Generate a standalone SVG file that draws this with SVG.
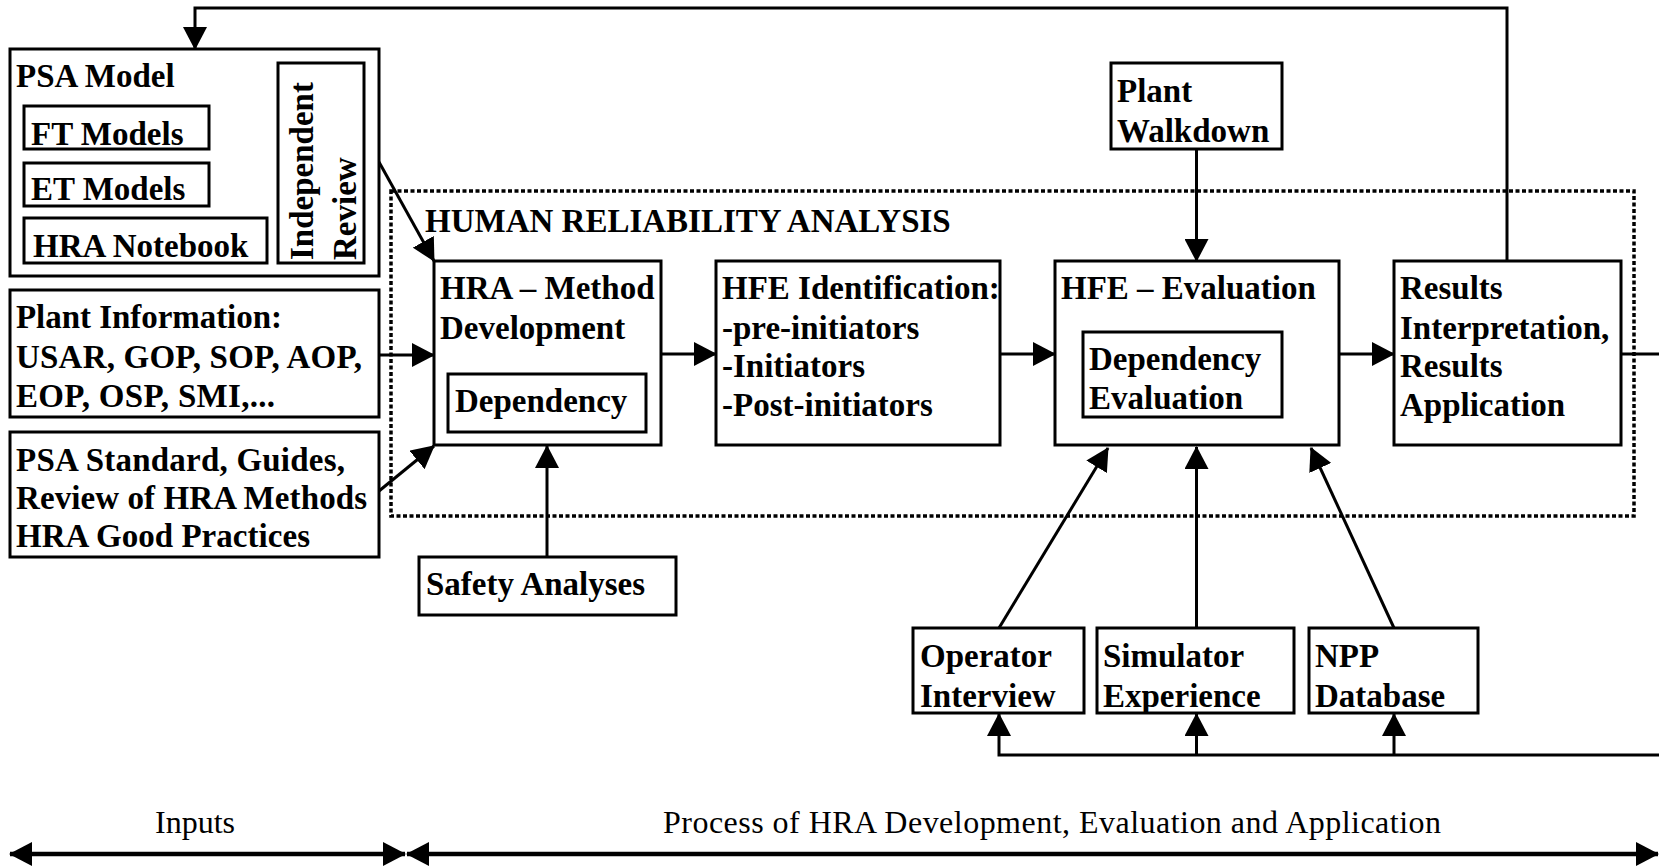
<svg xmlns="http://www.w3.org/2000/svg" width="1659" height="868" viewBox="0 0 1659 868">
  <style>
    .box { fill: #fff; stroke: #000; stroke-width: 3; }
    .in { fill: none; stroke: #000; stroke-width: 3; }
    .lbl { font-family: "Liberation Serif", "Times New Roman", serif; font-weight: bold; font-size: 33px; fill: #000; }
    .cap { font-family: "Liberation Serif", "Times New Roman", serif; font-size: 32px; fill: #000; }
    .wire { fill: none; stroke: #000; stroke-width: 3; }
    .span { fill: none; stroke: #000; stroke-width: 4.5; }
    .dots { fill: none; stroke: #000; stroke-width: 3.5; stroke-dasharray: 4 2.5; }
  </style>
  <defs>
    <marker id="head" markerUnits="userSpaceOnUse" markerWidth="24" markerHeight="24" refX="22" refY="12" orient="auto">
      <path d="M0,0 L23,12 L0,24 z" fill="#000"/>
    </marker>
    <marker id="tail" markerUnits="userSpaceOnUse" markerWidth="24" markerHeight="24" refX="1" refY="12" orient="auto">
      <path d="M23,0 L0,12 L23,24 z" fill="#000"/>
    </marker>
  </defs>
  <rect width="1659" height="868" fill="#fff"/>

  <!-- HRA boundary -->
  <g id="hra-boundary">
    <rect class="dots" x="391" y="191" width="1243" height="325"/>
    <text class="lbl" x="425" y="232">HUMAN RELIABILITY ANALYSIS</text>
  </g>

  <!-- connectors -->
  <g id="connectors">
    <polyline class="wire" points="1507,261 1507,8 195,8 195,49" marker-end="url(#head)"/>
    <line class="wire" x1="379" y1="162" x2="434" y2="261" marker-end="url(#head)"/>
    <line class="wire" x1="379" y1="355" x2="434" y2="355" marker-end="url(#head)"/>
    <line class="wire" x1="379" y1="491" x2="434" y2="446" marker-end="url(#head)"/>
    <line class="wire" x1="661" y1="354" x2="716" y2="354" marker-end="url(#head)"/>
    <line class="wire" x1="1000" y1="354" x2="1055" y2="354" marker-end="url(#head)"/>
    <line class="wire" x1="1339" y1="354" x2="1394" y2="354" marker-end="url(#head)"/>
    <line class="wire" x1="1621" y1="354" x2="1659" y2="354"/>
    <line class="wire" x1="1196.5" y1="149" x2="1196.5" y2="261" marker-end="url(#head)"/>
    <line class="wire" x1="547" y1="557" x2="547" y2="446" marker-end="url(#head)"/>
    <line class="wire" x1="999" y1="628" x2="1108" y2="448" marker-end="url(#head)"/>
    <line class="wire" x1="1196.5" y1="628" x2="1196.5" y2="447" marker-end="url(#head)"/>
    <line class="wire" x1="1394" y1="628" x2="1311" y2="448" marker-end="url(#head)"/>
    <polyline class="wire" points="1659,755 999,755 999,714" marker-end="url(#head)"/>
    <line class="wire" x1="1196.5" y1="755" x2="1196.5" y2="714" marker-end="url(#head)"/>
    <line class="wire" x1="1394" y1="755" x2="1394" y2="714" marker-end="url(#head)"/>
    <line class="span" x1="10" y1="854" x2="405" y2="854" marker-start="url(#tail)" marker-end="url(#head)"/>
    <line class="span" x1="407" y1="854" x2="1658" y2="854" marker-start="url(#tail)" marker-end="url(#head)"/>
  </g>

  <!-- inputs -->
  <g id="psa-model">
    <rect class="box" x="10" y="49" width="369" height="227"/>
    <text class="lbl" x="16" y="87">PSA Model</text>
    <rect class="in" x="24" y="106" width="185" height="43"/>
    <text class="lbl" x="31" y="145">FT Models</text>
    <rect class="in" x="24" y="163" width="185" height="43"/>
    <text class="lbl" x="31" y="200">ET Models</text>
    <rect class="in" x="24" y="218" width="243" height="45"/>
    <text class="lbl" x="33" y="257">HRA Notebook</text>
    <rect class="in" x="278" y="63" width="86" height="200"/>
    <text class="lbl" transform="translate(313,260) rotate(-90)"><tspan x="0" y="0">Independent</tspan><tspan x="0" y="43">Review</tspan></text>
  </g>

  <g id="plant-information">
    <rect class="box" x="10" y="290" width="369" height="127"/>
    <text class="lbl"><tspan x="16" y="328" textLength="266">Plant Information:</tspan><tspan x="16" y="368" textLength="346">USAR, GOP, SOP, AOP,</tspan><tspan x="16" y="407" textLength="259">EOP, OSP, SMI,...</tspan></text>
  </g>

  <g id="psa-standard">
    <rect class="box" x="10" y="432" width="369" height="125"/>
    <text class="lbl"><tspan x="16" y="471" textLength="329">PSA Standard, Guides,</tspan><tspan x="16" y="509" textLength="351">Review of HRA Methods</tspan><tspan x="16" y="547" textLength="294">HRA Good Practices</tspan></text>
  </g>

  <!-- process -->
  <g id="hra-method">
    <rect class="box" x="434" y="261" width="227" height="184"/>
    <text class="lbl"><tspan x="440" y="299">HRA – Method</tspan><tspan x="440" y="339">Development</tspan></text>
    <rect class="in" x="448" y="374" width="198" height="58"/>
    <text class="lbl" x="455" y="412">Dependency</text>
  </g>

  <g id="hfe-identification">
    <rect class="box" x="716" y="261" width="284" height="184"/>
    <text class="lbl"><tspan x="722" y="299">HFE Identification:</tspan><tspan x="722" y="339">-pre-initiators</tspan><tspan x="722" y="377">-Initiators</tspan><tspan x="722" y="416">-Post-initiators</tspan></text>
  </g>

  <g id="hfe-evaluation">
    <rect class="box" x="1055" y="261" width="284" height="184"/>
    <text class="lbl" x="1061" y="299">HFE – Evaluation</text>
    <rect class="in" x="1083" y="332" width="199" height="85"/>
    <text class="lbl"><tspan x="1089" y="370">Dependency</tspan><tspan x="1089" y="409">Evaluation</tspan></text>
  </g>

  <g id="results">
    <rect class="box" x="1394" y="261" width="227" height="184"/>
    <text class="lbl"><tspan x="1400" y="299">Results</tspan><tspan x="1400" y="339">Interpretation,</tspan><tspan x="1400" y="377">Results</tspan><tspan x="1400" y="416">Application</tspan></text>
  </g>

  <g id="plant-walkdown">
    <rect class="box" x="1111" y="63" width="171" height="86"/>
    <text class="lbl"><tspan x="1117" y="102">Plant</tspan><tspan x="1117" y="142">Walkdown</tspan></text>
  </g>

  <g id="safety-analyses">
    <rect class="box" x="419" y="557" width="257" height="58"/>
    <text class="lbl" x="426" y="595">Safety Analyses</text>
  </g>

  <g id="operator-interview">
    <rect class="box" x="913" y="628" width="171" height="85"/>
    <text class="lbl"><tspan x="920" y="667">Operator</tspan><tspan x="920" y="707">Interview</tspan></text>
  </g>

  <g id="simulator-experience">
    <rect class="box" x="1097" y="628" width="197" height="85"/>
    <text class="lbl"><tspan x="1103" y="667">Simulator</tspan><tspan x="1103" y="707">Experience</tspan></text>
  </g>

  <g id="npp-database">
    <rect class="box" x="1309" y="628" width="169" height="85"/>
    <text class="lbl"><tspan x="1315" y="667">NPP</tspan><tspan x="1315" y="707">Database</tspan></text>
  </g>

  <!-- phase spans -->
  <g id="phases">
    <text class="cap" x="155" y="833">Inputs</text>
    <text class="cap" x="663" y="833" textLength="778">Process of HRA Development, Evaluation and Application</text>
  </g>
</svg>
